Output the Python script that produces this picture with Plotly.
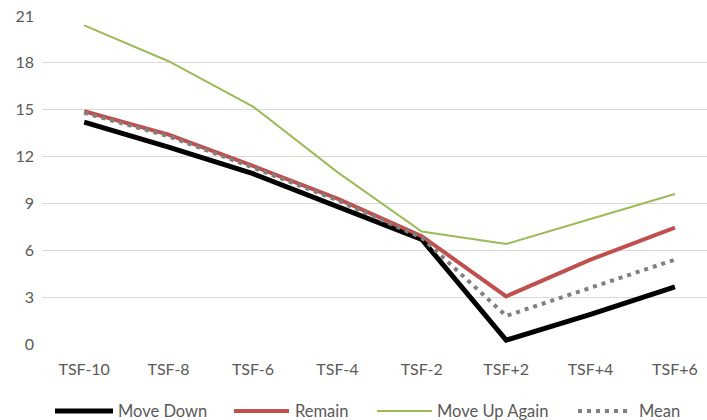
import plotly.graph_objects as go

categories = ["TSF-10", "TSF-8", "TSF-6", "TSF-4", "TSF-2", "TSF+2", "TSF+4", "TSF+6"]
move_down = [14.2, 12.6, 10.9, 8.8, 6.7, 0.25, 1.9, 3.65]
remain = [14.9, 13.4, 11.4, 9.3, 6.9, 3.05, 5.4, 7.45]
move_up_again = [20.4, 18.1, 15.2, 11.0, 7.2, 6.4, 8.0, 9.6]
mean = [14.8, 13.3, 11.3, 9.2, 6.8, 1.8, 3.6, 5.4]
y_ticks = [0, 3, 6, 9, 12, 15, 18, 21]

series_names = ["Move Down", "Remain", "Move Up Again", "Mean"]
series_values = [move_down, remain, move_up_again, mean]
series_styles = [
    dict(color="#000000", width=5),
    dict(color="#C0504D", width=4),
    dict(color="#9BBB59", width=2),
    dict(color="#808080", width=4, dash="4px,5px"),
]

W, H = 707, 420
ML, MR, MT, MB = 42, 0, 15, 76
plot_w = W - ML - MR
plot_h = H - MT - MB

fig = go.Figure()
for name, vals, style in zip(series_names, series_values, series_styles):
    fig.add_trace(go.Scatter(x=categories, y=vals, name=name, mode="lines", line=style,
                             showlegend=False))

# manual legend (lines longer than plotly's built-in legend symbols)
legend_line_px = [(55, 113), (234, 289), (377, 432), (578, 628)]
legend_text_px = [116, 293, 435, 637]
legend_y_px = 411


def px_to_paper_x(px):
    return (px - ML) / plot_w


def px_to_paper_y(py):
    return (H - MB - py) / plot_h


shapes = []
annotations = []
for name, style, (x0, x1), tx in zip(series_names, series_styles, legend_line_px, legend_text_px):
    shapes.append(dict(type="line", xref="paper", yref="paper",
                       x0=px_to_paper_x(x0), x1=px_to_paper_x(x1),
                       y0=px_to_paper_y(legend_y_px), y1=px_to_paper_y(legend_y_px),
                       line=style))
    annotations.append(dict(text=name, xref="paper", yref="paper", showarrow=False,
                            x=px_to_paper_x(tx), y=px_to_paper_y(legend_y_px),
                            xanchor="left", yanchor="middle",
                            font=dict(family="Lato", size=16.5, color="#595959")))

fig.update_layout(
    width=W, height=H,
    margin=dict(l=ML, r=MR, t=MT, b=MB, autoexpand=False),
    paper_bgcolor="white", plot_bgcolor="white",
    font=dict(family="Lato", size=16, color="#595959"),
    showlegend=False,
    shapes=shapes,
    annotations=annotations,
    xaxis=dict(type="category", range=[-0.5, 7.38], showgrid=False, showline=False,
               zeroline=False, ticks="", automargin=False, ticklabelstandoff=14,
               tickfont=dict(size=16, color="#595959")),
    yaxis=dict(range=[0, 21.06], tickvals=y_ticks, showgrid=True, gridcolor="#D9D9D9",
               gridwidth=1, zeroline=False, showline=False, ticks="", automargin=False,
               tickfont=dict(size=16, color="#595959"), ticklabelstandoff=7),
)
fig.write_html("out.html", config={"displayModeBar": False},
               post_script="document.body.style.margin='0';document.body.style.overflow='hidden';")
